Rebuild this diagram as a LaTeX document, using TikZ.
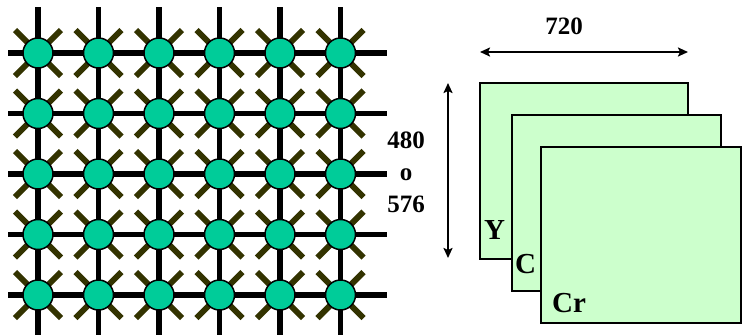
\documentclass[tikz,border=0pt]{standalone}
\usepackage{fontspec}
\setmainfont{Liberation Serif}
\usetikzlibrary{arrows.meta}
\definecolor{dot}{HTML}{00CC99}
\definecolor{olive}{HTML}{333300}
\definecolor{plane}{HTML}{CCFFCC}
\tikzset{
  gridline/.style={line width=5.5pt, black},
  xarm/.style={line width=6pt, olive},
  pixel/.style={circle, minimum size=30pt, inner sep=0pt, fill=dot, draw=black, line width=1.5pt},
  dimarrow/.style={line width=2.8pt, {Stealth[length=10pt,width=9pt,inset=2pt]}-{Stealth[length=10pt,width=9pt,inset=2pt]}},
  planebox/.style={fill=plane, draw=black, line width=1.5pt},
  numlab/.style={font=\bfseries\fontsize{25}{25}\selectfont, inner sep=0pt, anchor=base},
  planelab/.style={font=\bfseries\fontsize{29}{29}\selectfont, inner sep=0pt, anchor=base west},
}
\begin{document}
\begin{tikzpicture}[x=1pt,y=-1pt]
\useasboundingbox (0,0) rectangle (742,335);
\def\xs{38,98.5,159,219.5,280,340.5}
\def\ys{53,113.5,174,234.5,295}
% grid lines
\foreach \y in \ys {\draw[gridline] (8,\y) -- (387,\y);}
\foreach \x in \xs {\draw[gridline] (\x,7) -- (\x,335);}
% X arms
\foreach \x in \xs {\foreach \y in \ys {
  \draw[xarm] (\x-23,\y-23) -- (\x+23,\y+23);
  \draw[xarm] (\x-23,\y+23) -- (\x+23,\y-23);
}}
% pixels
\foreach \x [count=\i] in \xs {\foreach \y [count=\j] in \ys {
  \node[pixel] (p\i-\j) at (\x,\y) {};
}}
% planes
\draw[planebox] (480,83) rectangle (688,259);
\draw[planebox] (512,115) rectangle (721,291);
\draw[planebox] (541,147) rectangle (741,323);
\node[planelab] (ly) at (484,239) {Y};
\node[planelab] (lc) at (515,273) {C};
\node[planelab] (lcr) at (552,312) {Cr};
% dimension arrows
\coordinate (wl) at (480,52);
\coordinate (wr) at (688,52);
\draw[dimarrow] (wl) -- (wr);
\coordinate (ht) at (448,83);
\coordinate (hb) at (448,258);
\draw[dimarrow] (ht) -- (hb);
\node[numlab] (w) at (564,34) {720};
\node[numlab] (h1) at (406,148) {480};
\node[numlab] (h2) at (406,180) {o};
\node[numlab] (h3) at (406,212) {576};
\end{tikzpicture}
\end{document}
